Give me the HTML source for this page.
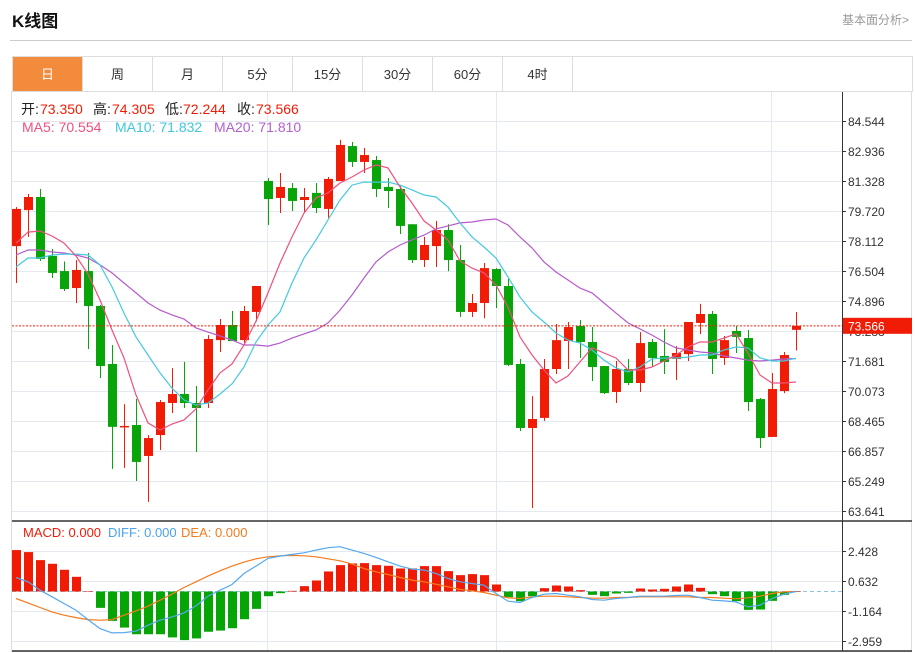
<!DOCTYPE html>
<html><head><meta charset="utf-8"><style>
body{margin:0;width:915px;height:653px;background:#fff;font-family:"Liberation Sans","Noto Sans CJK SC",sans-serif;overflow:hidden;position:relative}
.hdr{position:absolute;left:12px;top:7px;font-size:17px;font-weight:bold;color:#111}
.more{position:absolute;right:6px;top:11px;font-size:12px;color:#999}
.hline{position:absolute;left:10px;top:40px;width:902px;height:1px;background:#ccc}
.tabs{position:absolute;left:12px;top:56px;width:899px;height:35px;border:1px solid #ddd;border-bottom:none}
.tab{position:absolute;top:0;width:69px;height:35px;line-height:35px;text-align:center;font-size:13px;color:#333;border-right:1px solid #ddd}
.tab.on{background:#f28c3c;color:#fff}
svg{position:absolute;left:0;top:0}
</style></head><body>
<div class="hdr">K线图</div>
<div class="more">基本面分析&gt;</div>
<div class="hline"></div>
<div class="tabs">
<div class="tab on" style="left:0">日</div>
<div class="tab" style="left:70px">周</div>
<div class="tab" style="left:140px">月</div>
<div class="tab" style="left:210px">5分</div>
<div class="tab" style="left:280px">15分</div>
<div class="tab" style="left:350px">30分</div>
<div class="tab" style="left:420px">60分</div>
<div class="tab" style="left:490px">4时</div>
</div>
<svg id="chart" width="915" height="653"></svg>
<script>
const opens=[77.84,79.77,80.47,77.31,76.50,75.59,76.50,74.63,71.52,68.15,68.25,66.59,67.71,69.43,69.91,69.43,69.43,72.80,73.61,72.80,74.31,81.33,80.42,80.95,80.31,80.69,79.83,81.33,83.20,82.35,82.45,81.01,80.90,79.01,77.09,77.84,78.70,77.09,74.31,74.79,76.61,75.70,71.52,68.09,68.63,71.25,72.75,73.56,72.70,71.41,70.02,71.25,70.50,72.70,71.95,71.79,72.05,73.72,74.20,71.84,73.29,72.91,69.64,67.61,70.07,73.350];
const closes=[79.83,80.47,77.15,76.40,75.54,76.56,74.63,71.41,68.15,68.20,66.27,67.55,69.48,69.91,69.43,69.16,72.86,73.61,72.75,74.36,75.70,80.36,81.01,80.26,80.47,79.88,81.44,83.26,82.35,82.72,80.90,80.79,78.92,77.09,77.90,78.70,77.09,74.31,74.79,76.66,75.70,71.47,68.09,68.57,71.25,72.80,73.50,72.70,71.36,69.96,71.25,70.50,72.64,71.84,71.63,72.11,73.77,74.20,71.79,72.80,72.97,69.48,67.55,70.18,72.00,73.566];
const highs=[79.93,80.63,80.90,77.68,77.01,77.09,77.47,74.68,72.54,69.37,69.64,67.71,69.59,71.30,71.63,70.34,73.07,73.93,74.36,74.63,75.70,81.49,81.76,81.22,80.95,81.22,81.54,83.53,83.42,83.10,82.67,81.49,81.06,79.01,78.33,79.19,79.01,77.90,75.27,76.93,76.66,76.08,71.79,69.80,71.79,73.66,73.77,73.88,73.50,71.41,71.68,71.79,73.23,72.86,73.39,72.48,73.77,74.74,74.36,73.02,73.56,73.34,69.70,71.04,72.16,74.305];
const lows=[75.86,78.33,77.04,76.13,75.43,74.79,72.32,70.77,65.90,65.95,65.25,64.13,66.91,68.89,69.16,66.80,69.16,72.16,72.75,72.64,73.80,78.97,79.61,79.72,79.67,79.61,79.35,81.33,82.08,81.76,80.47,79.88,78.49,76.93,76.72,76.72,76.50,74.04,74.04,73.97,74.52,71.41,67.93,63.80,68.47,70.98,71.25,71.84,70.61,69.91,69.43,70.39,70.02,71.41,70.98,70.66,71.68,73.13,70.98,71.47,72.11,69.00,67.02,67.61,69.96,72.244];
const ma5=[78.00,78.59,78.65,78.38,78.00,77.31,76.34,74.95,73.34,71.84,69.86,68.36,67.98,68.30,68.52,69.11,70.13,71.04,71.52,72.54,73.82,75.33,76.93,78.33,79.61,80.42,80.69,81.22,81.54,81.92,82.19,82.03,81.01,80.15,79.19,78.70,78.17,77.04,76.66,76.40,75.75,74.57,72.97,72.00,71.20,70.50,70.88,71.63,72.38,72.11,71.84,71.20,71.20,71.36,71.68,72.00,72.43,72.70,72.70,72.91,73.13,72.11,70.93,70.50,70.50,70.554];
const ma10=[76.72,77.20,77.20,77.36,77.41,77.41,77.36,76.83,75.65,74.25,72.97,72.00,71.04,70.23,69.59,69.32,69.43,69.91,70.45,71.36,72.70,73.61,74.31,75.86,77.20,78.17,79.24,80.31,81.11,81.27,81.27,81.27,81.11,80.85,80.58,80.47,79.93,79.08,78.33,77.79,77.20,76.18,75.11,74.31,73.77,73.18,72.80,72.64,72.27,71.73,71.31,71.09,71.36,71.79,71.84,71.84,71.89,72.00,72.00,72.27,72.43,72.38,71.84,71.68,71.68,71.832];
const ma20=[77.36,77.63,77.63,77.52,77.47,77.36,77.20,76.83,76.40,75.86,75.33,74.79,74.41,74.15,73.93,73.45,73.23,73.02,72.80,72.54,72.54,72.48,72.64,72.91,73.13,73.34,73.72,74.41,75.22,76.13,76.99,77.52,77.90,78.17,78.43,78.76,78.92,79.08,79.13,79.24,79.29,78.97,78.33,77.74,76.99,76.45,76.02,75.59,75.33,74.79,74.25,73.72,73.40,73.07,72.70,72.38,72.27,72.16,72.11,71.95,71.84,71.73,71.68,71.73,71.79,71.81];
const macdHist=[2.48,2.36,1.88,1.66,1.30,0.88,0,-0.98,-1.76,-2.16,-2.56,-2.56,-2.56,-2.75,-2.91,-2.81,-2.41,-2.34,-2.20,-1.66,-1.04,-0.28,-0.10,0.04,0.32,0.66,1.20,1.58,1.68,1.70,1.58,1.54,1.38,1.38,1.52,1.52,1.22,0.98,1.04,0.98,0.42,-0.34,-0.58,-0.28,0.20,0.36,0.30,0.08,-0.20,-0.28,-0.12,-0.08,0.18,0.12,0.16,0.30,0.42,0.22,-0.16,-0.28,-0.58,-1.10,-1.08,-0.56,-0.20,0];
const diff=[0.84,0.58,0.08,-0.32,-0.72,-1.12,-1.68,-2.22,-2.48,-2.46,-2.38,-2.02,-1.72,-1.52,-1.28,-0.86,-0.28,0.08,0.42,1.08,1.52,1.98,2.12,2.22,2.32,2.48,2.62,2.68,2.48,2.28,2.04,1.78,1.52,1.34,1.28,1.08,0.78,0.58,0.48,0.38,-0.12,-0.58,-0.66,-0.36,-0.16,-0.12,-0.22,-0.32,-0.48,-0.52,-0.42,-0.36,-0.28,-0.28,-0.28,-0.24,-0.22,-0.36,-0.52,-0.56,-0.62,-0.92,-0.82,-0.42,-0.16,0];
const dea=[-0.42,-0.68,-0.96,-1.22,-1.42,-1.56,-1.68,-1.72,-1.68,-1.42,-1.16,-0.88,-0.52,-0.16,0.24,0.58,0.92,1.24,1.52,1.76,1.96,2.08,2.14,2.16,2.14,2.08,1.96,1.84,1.64,1.38,1.18,1.02,0.84,0.68,0.58,0.44,0.28,0.12,0.04,-0.06,-0.22,-0.38,-0.42,-0.32,-0.28,-0.28,-0.32,-0.36,-0.40,-0.40,-0.36,-0.36,-0.32,-0.32,-0.32,-0.32,-0.32,-0.36,-0.36,-0.40,-0.44,-0.38,-0.28,-0.12,-0.02,0];
const priceTicks=["84.544","82.936","81.328","79.720","78.112","76.504","74.896","73.288","71.681","70.073","68.465","66.857","65.249","63.641"];
const macdTicks=["2.428","0.632","-1.164","-2.959"];
const lastPrice=73.566;

const NS="http://www.w3.org/2000/svg";
const svg=document.getElementById('chart');
function el(tag,attrs,parent){const e=document.createElementNS(NS,tag);for(const k in attrs)e.setAttribute(k,attrs[k]);(parent||svg).appendChild(e);return e;}
const xAt=i=>16+12*i;
const yP=p=>121+(84.544-p)/1.608*30;
const yM=v=>591.5-v*16.7;

const fr=el('rect',{x:11.5,y:91.5,width:900,height:560,fill:'none',stroke:'#ddd'});


[267,496,771].forEach(x=>{const g=el('line',{x1:x+.5,x2:x+.5,y1:92,y2:651,stroke:'#e3e9ef'});

});
priceTicks.forEach(t=>{const y=Math.round(yP(parseFloat(t)))+.5;
const g=el('line',{x1:12,x2:842,y1:y,y2:y,stroke:'#e3e9ef'});


el('line',{x1:842,x2:846,y1:y,y2:y,stroke:'#333'});
const tx=el('text',{x:848,y:y+4.5,'font-size':12,fill:'#333'});tx.textContent=t;

});
macdTicks.forEach(t=>{const y=Math.round(yM(parseFloat(t)))+.5;
const g=el('line',{x1:12,x2:842,y1:y,y2:y,stroke:'#e3e9ef'});


el('line',{x1:842,x2:846,y1:y,y2:y,stroke:'#333'});
const tx=el('text',{x:848,y:y+4.5,'font-size':12,fill:'#333'});tx.textContent=t;

});
el('line',{x1:842.5,x2:842.5,y1:92,y2:651,stroke:'#333'});
const sep=el('line',{x1:12,x2:912,y1:521,y2:521,stroke:'#333','stroke-width':1.5});


el('line',{x1:12,x2:912,y1:651,y2:651,stroke:'#333','stroke-width':1.5});

for(let i=0;i<opens.length;i++){
 const up=closes[i]>=opens[i];const c=up?'#f01c06':'#07a507';const x=xAt(i);
 const g=el('g',{});
 
 
 el('line',{x1:x+.5,x2:x+.5,y1:yP(highs[i]),y2:yP(lows[i]),stroke:c},g);
 const t=yP(Math.max(opens[i],closes[i])),b=yP(Math.min(opens[i],closes[i]));
 el('rect',{x:x-4,y:t,width:9,height:Math.max(1.5,b-t),fill:c},g);
}
function line(arr,f,color,name){const d=arr.map((v,i)=>(i?'L':'M')+xAt(i)+' '+f(v).toFixed(1)).join(' ');
 const p=el('path',{d:d,fill:'none',stroke:color,'stroke-width':1.2});
 
 }
line(ma20,yP,'#b55bcb','ma20-line');
line(ma10,yP,'#45c9df','ma10-line');
line(ma5,yP,'#f0507f','ma5-line');

const ly=yP(lastPrice);
const dl=el('line',{x1:12,x2:842,y1:ly,y2:ly,stroke:'#f01c06','stroke-dasharray':'2,1.5'});


const lb=el('rect',{x:843,y:ly-8,width:69,height:16,fill:'#f01c06'});


const lt=el('text',{x:848,y:ly+4.5,'font-size':12,fill:'#fff'});lt.textContent=lastPrice.toFixed(3);

const zl=el('line',{x1:12,x2:842,y1:yM(0),y2:yM(0),stroke:'#8cc4dd','stroke-dasharray':'4,3'});


macdHist.forEach((v,i)=>{const y0=yM(0),y1=yM(v);
 const r=el('rect',{x:xAt(i)-4,y:Math.min(y0,y1),width:9,height:Math.max(0.5,Math.abs(y1-y0)),fill:v>=0?'#f01a05':'#06a506'});
 
 });
line(dea,yM,'#f57a1d','dea-line');
line(diff,yM,'#55a8ef','diff-line');

function txt(x,y,s,c,name,fs){const t=el('text',{x:x,y:y,'font-size':fs||14,fill:c});t.textContent=s;
 
 return t;}
txt(21,114,'开:','#222','open-label');txt(40,114,'73.350','#f01c06','open-value');
txt(93,114,'高:','#222','high-label');txt(112,114,'74.305','#f01c06','high-value');
txt(165,114,'低:','#222','low-label');txt(183,114,'72.244','#f01c06','low-value');
txt(237,114,'收:','#222','close-label');txt(256,114,'73.566','#f01c06','close-value');
txt(22,132,'MA5: 70.554','#f0507f','ma5-legend');
txt(115,132,'MA10: 71.832','#3cc8db','ma10-legend');
txt(214,132,'MA20: 71.810','#b35fd0','ma20-legend');
txt(23,537,'MACD: 0.000','#f01c06','macd-legend',13);
txt(108,537,'DIFF: 0.000','#4aa3ee','diff-legend',13);
txt(181,537,'DEA: 0.000','#f57a1d','dea-legend',13);
</script>
</body></html>
